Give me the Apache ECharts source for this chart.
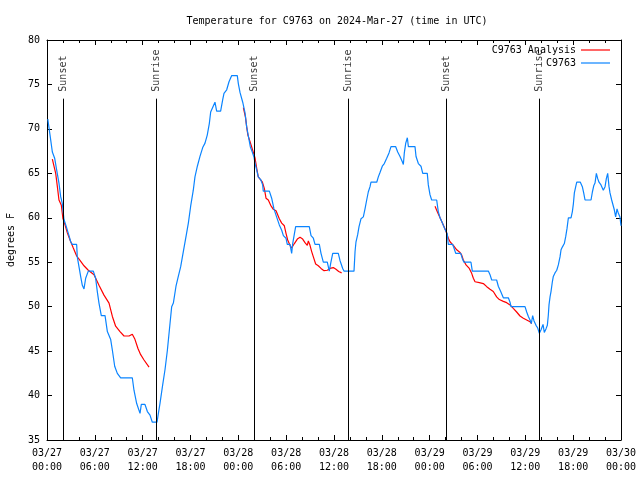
<!DOCTYPE html>
<html>
<head>
<meta charset="utf-8">
<script src="https://cdn.jsdelivr.net/npm/echarts@6/dist/echarts.min.js"></script>
<style>
html,body{margin:0;padding:0;background:#fff;}
#chart{width:640px;height:480px;}
</style>
</head>
<body>
<div id="chart"></div>
<script>
// ---- data (x in hours since 2024-03-27 00:00 UTC) ----
const xTickLabels = ['03/27\n00:00','03/27\n06:00','03/27\n12:00','03/27\n18:00','03/28\n00:00','03/28\n06:00','03/28\n12:00','03/28\n18:00','03/29\n00:00','03/29\n06:00','03/29\n12:00','03/29\n18:00','03/30\n00:00'];
const yMin = 35, yMax = 80, yStep = 5;

const obsHours = [0.1,0.38,0.67,0.96,1.21,1.5,1.71,1.92,2.13,2.42,2.67,2.76,2.97,3.18,3.72,3.8,4.01,4.22,4.43,4.64,4.85,5.18,5.81,6.1,6.31,6.52,6.81,7.28,7.57,7.99,8.2,8.49,8.82,9.24,10.7,10.91,11.25,11.67,11.83,12.29,12.59,12.92,13.21,13.8,13.97,14.17,14.51,14.8,15.1,15.43,15.64,15.85,16.18,16.47,16.77,17.1,17.44,17.73,18.02,18.35,18.56,18.86,19.19,19.53,19.82,20.1,20.36,20.53,20.78,21.07,21.28,21.78,22.04,22.2,22.54,22.83,23.17,23.87,24.0,24.21,24.55,24.84,25.05,25.3,25.5,25.75,25.97,26.1,26.3,26.5,26.8,27.05,27.13,27.89,28.18,28.47,28.8,29.14,29.44,29.65,29.98,30.14,30.48,30.69,30.82,31.03,31.19,32.9,33.12,33.41,33.62,34.16,34.37,34.66,35.16,35.41,35.59,35.84,36.54,36.75,37.09,37.25,38.51,38.64,38.76,38.97,39.14,39.39,39.68,39.89,40.1,40.3,40.52,40.64,41.36,41.56,41.77,42.06,42.31,42.61,42.9,43.15,43.74,43.99,44.28,44.57,44.7,44.82,45.0,45.2,45.33,46.16,46.29,46.58,46.91,47.13,47.7,47.83,48.04,48.25,48.88,49.08,49.3,49.6,49.88,50.2,50.34,50.89,51.05,51.27,51.9,52.1,52.3,53.18,53.35,55.36,55.57,55.78,56.4,56.61,56.91,57.24,57.87,58.08,58.2,59.96,60.17,60.38,60.59,60.75,60.92,61.09,61.34,61.55,61.76,61.97,62.22,62.38,62.59,62.76,62.88,62.97,63.1,63.22,63.39,63.51,63.72,63.94,64.14,64.35,64.48,64.64,64.89,65.07,65.23,65.4,65.73,65.9,66.03,66.15,66.32,66.45,66.9,67.15,67.32,67.49,68.24,68.41,68.58,68.74,68.91,69.08,69.24,69.49,69.78,70.0,70.16,70.33,70.5,70.62,70.83,71.04,71.16,71.33,71.5,71.67,71.87,72.0];
const obsTemps = [71.1,69.3,67.4,66.7,65.4,63.9,62.4,61.6,59.8,59.0,59.0,58.0,57.3,57.0,57.0,55.6,54.5,53.4,52.4,52.0,53.2,54.0,54.0,53.2,51.7,50.4,49.0,49.0,47.2,46.3,45.1,43.3,42.5,42.0,42.0,40.6,39.1,38.0,39.0,39.0,38.2,37.8,37.0,37.0,38.0,39.1,41.2,42.9,45.1,48.1,50.0,50.4,52.3,53.4,54.5,56.2,57.9,59.4,61.3,63.1,64.6,65.8,66.9,67.9,68.4,69.3,70.6,71.9,72.1,73.0,72.0,72.0,73.3,74.0,74.4,75.3,76.0,76.0,75.1,74.1,73.0,71.8,70.2,69.0,68.0,67.4,66.8,66.1,65.4,64.6,64.3,63.7,63.0,63.0,62.2,61.0,60.1,59.2,58.6,58.0,57.7,57.0,57.0,56.0,57.1,58.2,59.0,59.0,58.0,57.7,57.0,57.0,56.0,55.0,55.0,54.0,54.9,56.0,56.0,55.2,54.3,54.0,54.0,56.2,57.3,58.1,59.0,59.9,60.1,61.0,62.0,62.9,63.5,64.0,64.0,64.6,65.1,65.8,66.1,66.7,67.3,68.0,68.0,67.4,66.9,66.3,66.0,67.3,68.4,69.0,68.0,68.0,66.9,66.1,65.8,65.0,65.0,63.7,62.6,62.0,62.0,60.7,60.0,59.4,58.8,58.2,57.0,57.0,56.6,56.0,56.0,55.4,55.0,55.0,54.0,54.0,53.6,53.0,53.0,52.3,51.7,51.0,51.0,50.5,50.0,50.0,49.4,48.9,48.5,48.1,49.0,48.4,47.9,47.6,47.0,47.4,48.0,47.1,47.5,47.9,49.0,50.2,51.1,51.7,52.8,53.4,53.8,54.1,54.7,55.6,56.4,56.7,57.1,57.9,58.8,60.0,60.0,60.7,61.6,62.8,63.5,64.0,64.0,63.5,62.8,62.0,62.0,62.9,63.6,63.9,65.0,64.4,64.0,63.7,63.1,63.5,64.4,65.0,63.5,62.8,62.0,61.8,60.9,60.1,61.0,60.5,60.1,59.1];

const anaHours1 = [0.67,0.8,1.09,1.3,1.5,1.8,2.0,2.26,2.55,2.89,3.3,3.72,4.14,4.64,5.18,5.9,6.52,7.15,7.78,8.2,8.61,9.16,9.66,10.29,10.7,11.0,11.41,11.75,12.17,12.8];
const anaTemps1 = [66.6,66.4,65.0,63.5,62.0,61.4,59.9,59.2,58.3,57.5,56.6,55.7,55.2,54.6,54.1,53.6,52.4,51.3,50.4,48.9,47.8,47.2,46.7,46.7,46.9,46.4,45.3,44.6,44.0,43.2];
const anaHours2 = [24.63,24.75,24.9,25.05,25.2,25.46,25.8,26.1,26.3,26.5,26.72,27.0,27.26,27.47,27.76,28.06,28.39,28.73,29.14,29.44,29.77,29.98,30.19,30.48,30.69,31.03,31.4,31.74,32.07,32.36,32.65,32.78,32.99,33.2,33.41,33.7,34.03,34.37,34.75,35.16,35.5,35.91,36.25,36.59,36.96];
const anaTemps2 = [72.4,72.3,71.3,70.2,69.3,68.6,67.6,66.7,65.6,64.6,64.4,64.05,63.3,62.2,62.0,61.4,60.95,60.8,59.9,59.4,59.1,58.25,57.5,56.9,56.6,57.1,57.6,57.8,57.6,57.2,56.9,57.4,56.9,56.2,55.6,54.8,54.6,54.3,54.05,54.1,54.3,54.4,54.2,53.95,53.8];
const anaHours3 = [48.67,48.8,49.0,49.3,49.6,49.9,50.14,50.34,50.55,50.97,51.39,51.81,52.02,52.22,52.56,52.97,53.27,53.48,53.69,54.23,54.73,55.16,55.57,55.98,56.4,56.74,57.24,57.66,58.08,58.49,58.91,59.33,59.75,60.17,60.59,60.79];
const anaTemps3 = [61.3,61.2,60.6,60.0,59.4,58.8,58.25,57.7,57.3,56.9,56.4,56.1,55.8,55.25,54.7,54.3,53.75,53.2,52.8,52.7,52.6,52.25,51.95,51.7,51.1,50.8,50.6,50.45,50.2,49.8,49.4,48.95,48.7,48.5,48.3,48.1];

const sunHours = [2.05,13.72,26.0,37.78,50.1,61.78];
const sunLabels = ['Sunset','Sunrise','Sunset','Sunrise','Sunset','Sunrise'];
const sunLineTop = 73.4;

// ---- build ----
const zip = (a, b) => a.map((x, i) => [x, b[i]]);
const anaData = [].concat(zip(anaHours1, anaTemps1), [[13.5, '-']], zip(anaHours2, anaTemps2), [[40, '-']], zip(anaHours3, anaTemps3));
const obsData = zip(obsHours, obsTemps);
const sunData = sunHours.map((h, i) => [h, sunLineTop, sunLabels[i]]);

const FONT = 'DejaVu Sans Mono';
const black = '#000';
const RED = '#ff0000', BLUE = '#0a84ff';
const baseX = {
  type: 'value', min: 0, max: 72, interval: 6,
  axisLine: { show: true, onZero: false, lineStyle: { color: black, width: 1 } },
  axisTick: { show: true, inside: true, length: 5, lineStyle: { color: black } },
  minorTick: { show: true, splitNumber: 3, length: 3, lineStyle: { color: black } },
  splitLine: { show: false }
};
const baseY = {
  type: 'value', min: yMin, max: yMax, interval: yStep,
  axisLine: { show: true, onZero: false, lineStyle: { color: black, width: 1 } },
  axisTick: { show: true, inside: true, length: 5, lineStyle: { color: black } },
  splitLine: { show: false }
};
const legendBase = {
  right: 30, align: 'right', padding: 0, icon: 'rect', itemWidth: 29, itemHeight: 1.2,
  textStyle: { fontFamily: FONT, fontSize: 10, color: black }, selectedMode: false
};

const chart = echarts.init(document.getElementById('chart'), null, { renderer: 'canvas' });
chart.setOption({
  animation: false,
  backgroundColor: '#fff',
  textStyle: { fontFamily: FONT },
  title: {
    text: 'Temperature for C9763 on 2024-Mar-27 (time in UTC)',
    left: 332, top: 11, textAlign: 'center',
    textStyle: { fontFamily: FONT, fontSize: 10, fontWeight: 'normal', color: black }
  },
  legend: [
    Object.assign({}, legendBase, { data: ['C9763 Analysis'], top: 45 }),
    Object.assign({}, legendBase, { data: ['C9763'], top: 58 })
  ],
  grid: { left: 47, right: 19, top: 40, bottom: 40, containLabel: false, outerBoundsMode: 'none' },
  xAxis: [
    Object.assign({}, baseX, {
      position: 'bottom',
      axisLabel: {
        margin: 6, fontFamily: FONT, fontSize: 10, color: black, lineHeight: 14,
        formatter: v => xTickLabels[Math.round(v / 6)]
      }
    }),
    Object.assign({}, baseX, { position: 'top', axisLabel: { show: false } })
  ],
  yAxis: [
    Object.assign({}, baseY, {
      position: 'left',
      name: 'degrees F', nameLocation: 'middle', nameGap: 31, nameRotate: 90,
      nameTextStyle: { fontFamily: FONT, fontSize: 10, color: black },
      axisLabel: { margin: 7, fontFamily: FONT, fontSize: 10, color: black }
    }),
    Object.assign({}, baseY, { position: 'right', axisLabel: { show: false } })
  ],
  series: [
    {
      name: 'sun', type: 'scatter', data: sunData, symbolSize: 0, silent: true,
      label: {
        show: true, position: 'top', distance: 7, rotate: 90, align: 'left', verticalAlign: 'middle',
        formatter: p => p.value[2], fontFamily: FONT, fontSize: 10, color: black
      },
      markLine: {
        silent: true, symbol: ['none', 'none'], label: { show: false },
        lineStyle: { color: black, width: 1, type: 'solid' },
        data: sunHours.map(h => [{ coord: [h, yMin] }, { coord: [h, sunLineTop] }])
      }
    },
    {
      name: 'C9763 Analysis', type: 'line', data: anaData, symbol: 'none', connectNulls: false,
      lineStyle: { color: RED, width: 1.2 }, itemStyle: { color: RED }
    },
    {
      name: 'C9763', type: 'line', data: obsData, symbol: 'none',
      lineStyle: { color: BLUE, width: 1.2 }, itemStyle: { color: BLUE }
    }
  ]
});
</script>
</body>
</html>
